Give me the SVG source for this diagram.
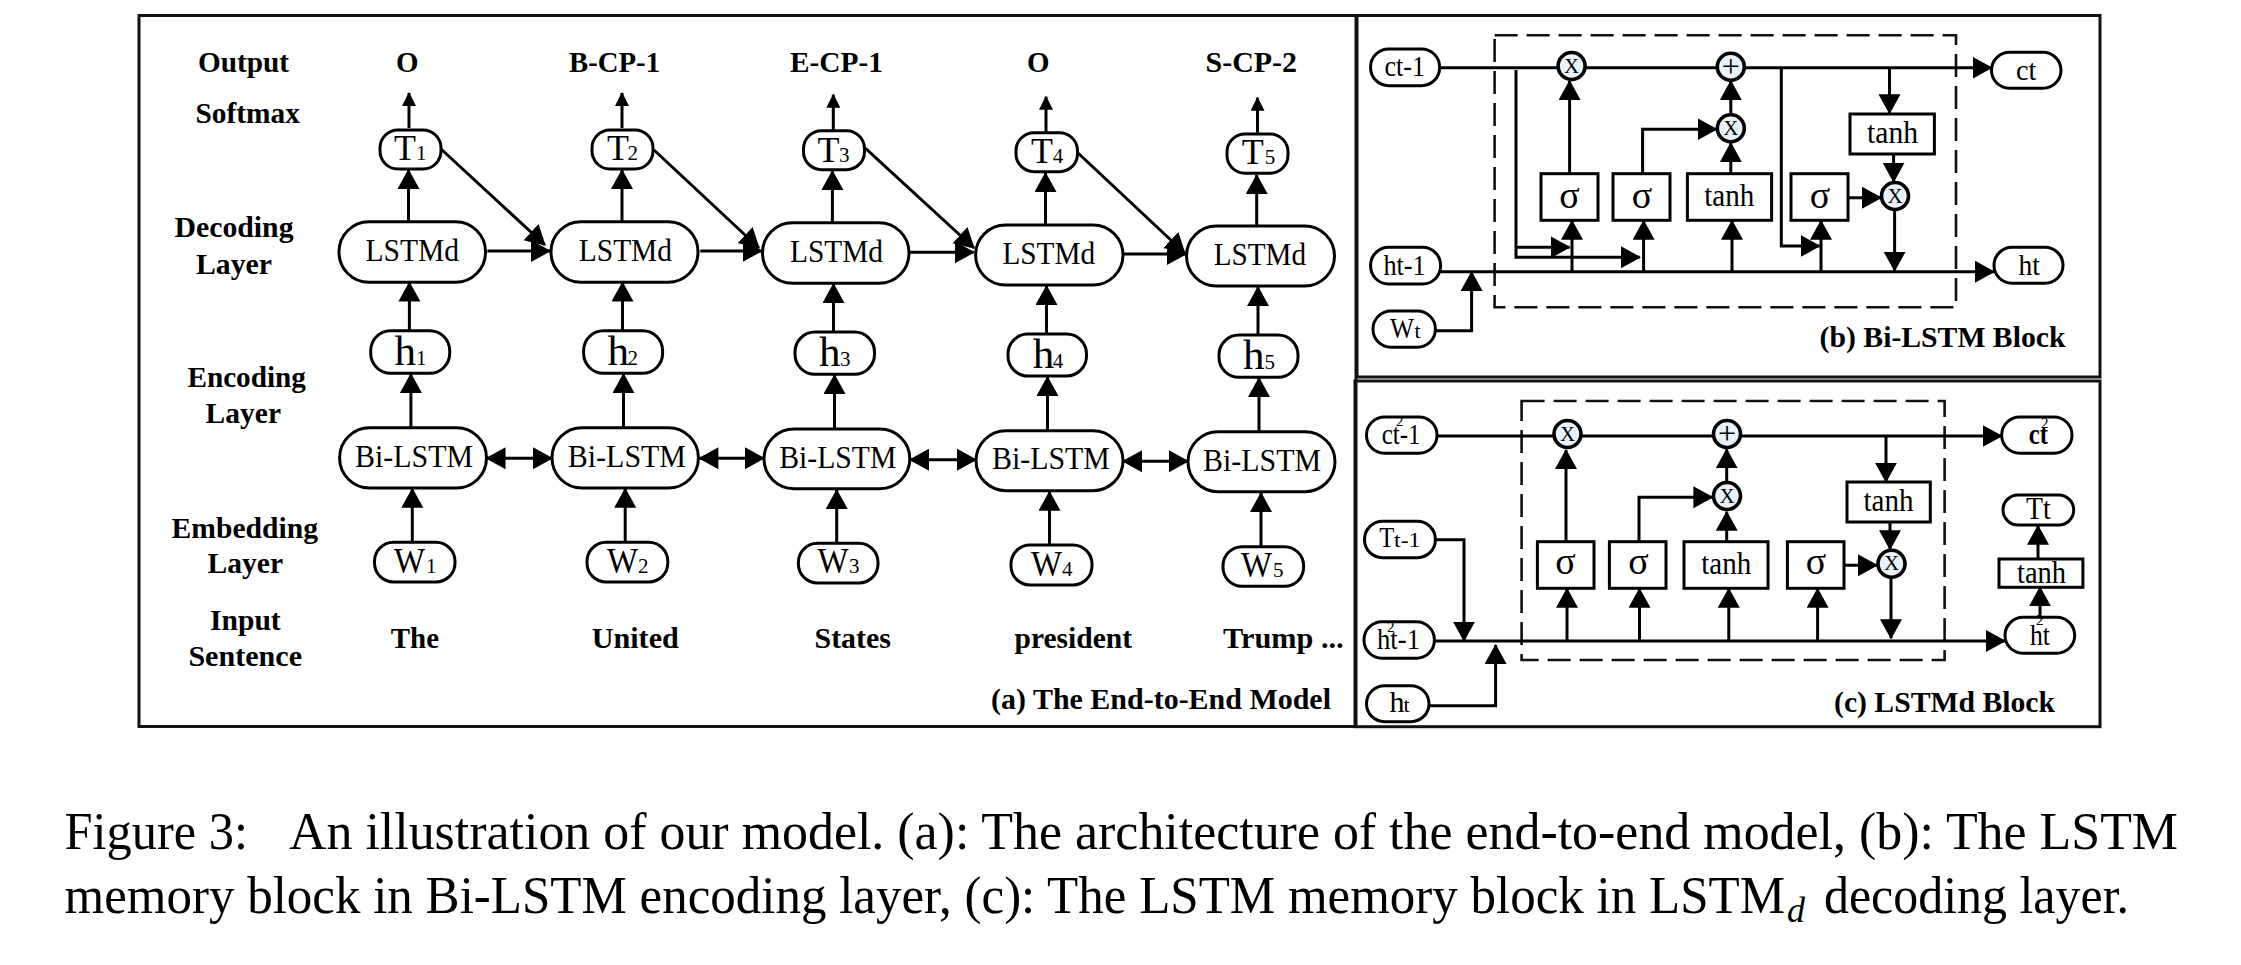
<svg xmlns="http://www.w3.org/2000/svg" width="2241" height="965" viewBox="0 0 2241 965">
<style>
text{font-family:"Liberation Serif","Times New Roman",serif;fill:#000}
.b{font-weight:bold;font-size:30px}
.n{font-size:32px}
.big{font-size:36px}
.h{font-size:43px}
.d{font-size:21px}
.s{font-size:30px}
.ss{font-size:22px}
.sup{font-size:15px}
.sg{font-size:38px;text-anchor:middle}
.x{font-size:21px;text-anchor:middle}
.p{font-size:32px;text-anchor:middle}
.cap{font-size:53px}
.panel{fill:none;stroke:#111;stroke-width:3}
.dash{fill:none;stroke:#111;stroke-width:2.6;stroke-dasharray:23 9}
.pill,.box{fill:#fff;stroke:#000;stroke-width:3}
.op{fill:#eaf2f9;stroke:#000;stroke-width:3.6}
.c path{fill:none;stroke:#000;stroke-width:3}
.a{marker-end:url(#big)}
.t{marker-end:url(#small)}
.bi{marker-start:url(#bigr);marker-end:url(#big)}
</style>
<defs>
<marker id="big" markerUnits="userSpaceOnUse" markerWidth="24" markerHeight="24" refX="19" refY="11" orient="auto"><path d="M0 0L20 11L0 22Z" fill="#000"/></marker>
<marker id="bigr" markerUnits="userSpaceOnUse" markerWidth="24" markerHeight="24" refX="1" refY="11" orient="auto"><path d="M20 0L0 11L20 22Z" fill="#000"/></marker>
<marker id="small" markerUnits="userSpaceOnUse" markerWidth="16" markerHeight="16" refX="13" refY="7" orient="auto"><path d="M0 0L14 7L0 14Z" fill="#000"/></marker>
</defs>
<rect fill="#fff" width="2241" height="965"/>
<g id="panels">
<rect class="panel" x="139" y="15.5" width="1217" height="711"/>
<rect class="panel" x="1357" y="15.5" width="743" height="361.5"/>
<rect class="panel" x="1355" y="381" width="745" height="345.7"/>
<rect class="dash" x="1494.6" y="35.3" width="461.4" height="272"/>
<rect class="dash" x="1521.6" y="401" width="423" height="259"/>
</g>
<g id="connectors" class="c">
<path class="t" d="M409 128V93"/><path class="t" d="M622 128V93"/><path class="t" d="M833.3 130V94.7"/><path class="t" d="M1046 131.7V96.7"/><path class="t" d="M1257.5 132.7V97.7"/>
<path class="a" d="M408.5 221.7V170"/><path class="a" d="M622 221.7V170"/><path class="a" d="M832.4 222.7V171"/><path class="a" d="M1045.5 226V173"/><path class="a" d="M1256.7 226V175"/>
<path class="a" d="M409.4 330V282.5"/><path class="a" d="M622.5 330V282.5"/><path class="a" d="M833.5 332V284"/><path class="a" d="M1046.5 334V286"/><path class="a" d="M1258 335V287"/>
<path class="a" d="M410.9 427.7V374"/><path class="a" d="M623.5 427.7V374"/><path class="a" d="M834.5 429V375"/><path class="a" d="M1047.5 430.7V377"/><path class="a" d="M1259 431.7V378"/>
<path class="a" d="M412.3 541.7V488.7"/><path class="a" d="M625.2 541.7V488.7"/><path class="a" d="M836.7 543V490"/><path class="a" d="M1049.5 544V491.7"/><path class="a" d="M1261 546V493"/>
<path class="a" d="M441 149L545 245"/><path class="a" d="M654 150L759 248"/><path class="a" d="M865.5 148.3L974 248"/><path class="a" d="M1078 153L1184.7 253"/>
<path class="a" d="M487.4 251H550"/><path class="a" d="M700.3 251H761.6"/><path class="a" d="M910 252.3H973.8"/><path class="a" d="M1123.6 254H1186"/>
<path class="bi" d="M486.5 458.3H552"/><path class="bi" d="M699.4 458.3H764"/><path class="bi" d="M910 459.7H976"/><path class="bi" d="M1123 461.3H1188"/>

<path class="a" d="M1439.5 67.7H1991.5"/>
<path class="a" d="M1440.5 271.7H1994"/>
<path class="a" d="M1435.4 330.7H1471.6V272"/>
<path class="a" d="M1516 70V257.3H1640"/>
<path class="a" d="M1516 247.3H1569.6"/>
<path class="a" d="M1572 271.7V220.7"/><path class="a" d="M1643.6 271.7V220.7"/><path class="a" d="M1732 271.7V220.7"/><path class="a" d="M1821 271.7V220.7"/>
<path class="a" d="M1569.6 173.7V81"/>
<path class="a" d="M1642.6 173.7V129.3H1716.5"/>
<path class="a" d="M1730.8 173.7V143"/>
<path class="a" d="M1730.8 113V81"/>
<path class="a" d="M1781.3 68V246H1819.6"/>
<path class="a" d="M1889.5 68V113.3"/>
<path class="a" d="M1893.6 154V181.7"/>
<path class="a" d="M1848 197.7H1881"/>
<path class="a" d="M1894.6 210V270.7"/>

<path class="a" d="M1437 436H2001.7"/>
<path class="a" d="M1434.4 641H2005"/>
<path class="a" d="M1435.4 539.7H1464V640.7"/>
<path class="a" d="M1429.3 705.7H1495.6V645"/>
<path class="a" d="M1567 641V588.7"/><path class="a" d="M1639.5 641V588.7"/><path class="a" d="M1728.8 641V588.7"/><path class="a" d="M1817.6 641V588.7"/>
<path class="a" d="M1566 541.7V450"/>
<path class="a" d="M1639 541.7V497.3H1712.4"/>
<path class="a" d="M1726.7 541.7V511.7"/>
<path class="a" d="M1726.7 482.3V449.3"/>
<path class="a" d="M1886 436V481.7"/>
<path class="a" d="M1890 522V549.3"/>
<path class="a" d="M1844 565.3H1877"/>
<path class="a" d="M1891 578.3V638.3"/>
<path class="a" d="M2040 617.3V587.3"/>
<path class="a" d="M2038 559V525.7"/>
</g>

<g id="a-labels">
<text class="b" x="198" y="71.7" textLength="91" lengthAdjust="spacingAndGlyphs">Output</text>
<text class="b" x="195.5" y="122.7" textLength="104.5" lengthAdjust="spacingAndGlyphs">Softmax</text>
<text class="b" x="396" y="71.7" textLength="22.5" lengthAdjust="spacingAndGlyphs">O</text>
<text class="b" x="569" y="71.7" textLength="91" lengthAdjust="spacingAndGlyphs">B-CP-1</text>
<text class="b" x="790" y="71.7" textLength="93" lengthAdjust="spacingAndGlyphs">E-CP-1</text>
<text class="b" x="1027" y="71.7" textLength="22.5" lengthAdjust="spacingAndGlyphs">O</text>
<text class="b" x="1205.5" y="71.7" textLength="91.5" lengthAdjust="spacingAndGlyphs">S-CP-2</text>
<text class="b" x="174.5" y="237" textLength="119" lengthAdjust="spacingAndGlyphs">Decoding</text>
<text class="b" x="196" y="274" textLength="76" lengthAdjust="spacingAndGlyphs">Layer</text>
<text class="b" x="187.4" y="387" textLength="118.6" lengthAdjust="spacingAndGlyphs">Encoding</text>
<text class="b" x="205.6" y="423.3" textLength="75.4" lengthAdjust="spacingAndGlyphs">Layer</text>
<text class="b" x="171.6" y="537.7" textLength="146.4" lengthAdjust="spacingAndGlyphs">Embedding</text>
<text class="b" x="207.5" y="573" textLength="75.5" lengthAdjust="spacingAndGlyphs">Layer</text>
<text class="b" x="210" y="630" textLength="70.7" lengthAdjust="spacingAndGlyphs">Input</text>
<text class="b" x="188.4" y="665.7" textLength="113.6" lengthAdjust="spacingAndGlyphs">Sentence</text>
<text class="b" x="390.8" y="648" textLength="48.2" lengthAdjust="spacingAndGlyphs">The</text>
<text class="b" x="591.7" y="648" textLength="87.1" lengthAdjust="spacingAndGlyphs">United</text>
<text class="b" x="814.5" y="648" textLength="76.5" lengthAdjust="spacingAndGlyphs">States</text>
<text class="b" x="1014.5" y="648" textLength="117.5" lengthAdjust="spacingAndGlyphs">president</text>
<text class="b" x="1223" y="648" textLength="120.6" lengthAdjust="spacingAndGlyphs">Trump ...</text>
<text class="b" x="991" y="709" textLength="340" lengthAdjust="spacingAndGlyphs">(a) The End-to-End Model</text>
</g>

<g id="T1"><rect class="pill" x="380" y="130" width="61" height="39" rx="18"/><text class="big" x="394" y="160">T</text><text class="d" x="416" y="160">1</text></g>
<g id="T2"><rect class="pill" x="592" y="130" width="61" height="39" rx="18"/><text class="big" x="607" y="160">T</text><text class="d" x="627.6" y="160">2</text></g>
<g id="T3"><rect class="pill" x="803.5" y="130.7" width="61" height="39" rx="18"/><text class="big" x="817.6" y="161.7">T</text><text class="d" x="839" y="161.7">3</text></g>
<g id="T4"><rect class="pill" x="1016" y="132.7" width="61.5" height="39" rx="18"/><text class="big" x="1031" y="162.7">T</text><text class="d" x="1052.7" y="162.7">4</text></g>
<g id="T5"><rect class="pill" x="1227" y="134" width="61" height="39.3" rx="18"/><text class="big" x="1241.8" y="164.3">T</text><text class="d" x="1264.7" y="164.3">5</text></g>

<g id="LSTMd1"><rect class="pill" x="339" y="221.7" width="146.5" height="60.6" rx="30"/><text class="n" x="365.4" y="260.7" textLength="93.6" lengthAdjust="spacingAndGlyphs">LSTMd</text></g>
<g id="LSTMd2"><rect class="pill" x="551" y="221.7" width="147" height="60.6" rx="30"/><text class="n" x="578.8" y="260.7" textLength="93.2" lengthAdjust="spacingAndGlyphs">LSTMd</text></g>
<g id="LSTMd3"><rect class="pill" x="762.5" y="222.7" width="146.5" height="60.6" rx="30"/><text class="n" x="790" y="261.7" textLength="93" lengthAdjust="spacingAndGlyphs">LSTMd</text></g>
<g id="LSTMd4"><rect class="pill" x="975.6" y="225" width="147.4" height="60" rx="30"/><text class="n" x="1002.5" y="264" textLength="92.5" lengthAdjust="spacingAndGlyphs">LSTMd</text></g>
<g id="LSTMd5"><rect class="pill" x="1186.5" y="226" width="148" height="60" rx="30"/><text class="n" x="1213.8" y="265" textLength="92.2" lengthAdjust="spacingAndGlyphs">LSTMd</text></g>

<g id="h1"><rect class="pill" x="370.7" y="330.7" width="79" height="42.6" rx="20"/><text class="h" x="394.6" y="365">h</text><text class="d" x="416" y="365">1</text></g>
<g id="h2"><rect class="pill" x="583.6" y="330.7" width="79" height="42.6" rx="20"/><text class="h" x="607.5" y="365">h</text><text class="d" x="627.6" y="365">2</text></g>
<g id="h3"><rect class="pill" x="795" y="332" width="79.5" height="42.3" rx="20"/><text class="h" x="819" y="366">h</text><text class="d" x="840" y="366">3</text></g>
<g id="h4"><rect class="pill" x="1008" y="334" width="78.5" height="42" rx="20"/><text class="h" x="1032.7" y="367.7">h</text><text class="d" x="1052.7" y="367.7">4</text></g>
<g id="h5"><rect class="pill" x="1219" y="335" width="79" height="42.3" rx="20"/><text class="h" x="1243" y="369.3">h</text><text class="d" x="1264.4" y="369.3">5</text></g>

<g id="BiLSTM1"><rect class="pill" x="339.6" y="427.7" width="146.9" height="60.3" rx="30"/><text class="n" x="355" y="466.7" textLength="118" lengthAdjust="spacingAndGlyphs">Bi-LSTM</text></g>
<g id="BiLSTM2"><rect class="pill" x="552" y="427.7" width="146.4" height="60.3" rx="30"/><text class="n" x="567.8" y="466.7" textLength="118.2" lengthAdjust="spacingAndGlyphs">Bi-LSTM</text></g>
<g id="BiLSTM3"><rect class="pill" x="764" y="429" width="145.8" height="59.7" rx="30"/><text class="n" x="779.3" y="467.7" textLength="117.1" lengthAdjust="spacingAndGlyphs">Bi-LSTM</text></g>
<g id="BiLSTM4"><rect class="pill" x="976" y="430.7" width="147" height="60" rx="30"/><text class="n" x="992" y="469.3" textLength="117.8" lengthAdjust="spacingAndGlyphs">Bi-LSTM</text></g>
<g id="BiLSTM5"><rect class="pill" x="1188" y="431.7" width="147" height="60" rx="30"/><text class="n" x="1203" y="470.7" textLength="118" lengthAdjust="spacingAndGlyphs">Bi-LSTM</text></g>

<g id="W1"><rect class="pill" x="374.5" y="542.3" width="80.5" height="39.7" rx="19"/><text class="big" x="394" y="572.7" textLength="31" lengthAdjust="spacingAndGlyphs">W</text><text class="d" x="426" y="572.7">1</text></g>
<g id="W2"><rect class="pill" x="587" y="542.3" width="80.8" height="39.7" rx="19"/><text class="big" x="607" y="572.7" textLength="31" lengthAdjust="spacingAndGlyphs">W</text><text class="d" x="638" y="572.7">2</text></g>
<g id="W3"><rect class="pill" x="798.4" y="543.3" width="79.6" height="39.7" rx="19"/><text class="big" x="817.5" y="573.3" textLength="31" lengthAdjust="spacingAndGlyphs">W</text><text class="d" x="849" y="573.3">3</text></g>
<g id="W4"><rect class="pill" x="1011" y="545" width="81" height="40" rx="19"/><text class="big" x="1031" y="575.7" textLength="31" lengthAdjust="spacingAndGlyphs">W</text><text class="d" x="1062" y="575.7">4</text></g>
<g id="W5"><rect class="pill" x="1223" y="546.7" width="80.6" height="39.6" rx="19"/><text class="big" x="1241" y="576.7" textLength="31" lengthAdjust="spacingAndGlyphs">W</text><text class="d" x="1273" y="576.7">5</text></g>

<g id="b-ct-1"><rect class="pill" x="1370.6" y="49" width="69" height="36.7" rx="18"/><text class="s" x="1384.4" y="76" textLength="40.6" lengthAdjust="spacingAndGlyphs">ct-1</text></g>
<g id="b-ct"><rect class="pill" x="1991.5" y="52.3" width="69.5" height="36" rx="18"/><text class="s" x="2016" y="80" textLength="20.4" lengthAdjust="spacingAndGlyphs">ct</text></g>
<g id="b-ht-1"><rect class="pill" x="1370.6" y="247.3" width="70" height="36.7" rx="18"/><text class="s" x="1383.4" y="275" textLength="42.3" lengthAdjust="spacingAndGlyphs">ht-1</text></g>
<g id="b-ht"><rect class="pill" x="1994" y="247.3" width="69" height="36" rx="18"/><text class="s" x="2018.6" y="275" textLength="21.4" lengthAdjust="spacingAndGlyphs">ht</text></g>
<g id="b-Wt"><rect class="pill" x="1373" y="311" width="62.4" height="36.3" rx="18"/><text class="s" x="1390" y="338" textLength="24" lengthAdjust="spacingAndGlyphs">W</text><text class="ss" x="1414.5" y="338">t</text></g>
<g id="b-x1"><circle class="op" cx="1571.6" cy="66" r="13.5"/><text class="x" x="1571.6" y="72.5">X</text></g>
<g id="b-plus"><circle class="op" cx="1730.8" cy="66.7" r="13.5"/><text class="p" x="1730.8" y="77">+</text></g>
<g id="b-x2"><circle class="op" cx="1730.8" cy="128.3" r="13.5"/><text class="x" x="1730.8" y="134.8">X</text></g>
<g id="b-x3"><circle class="op" cx="1895" cy="196" r="13.5"/><text class="x" x="1895" y="202.5">X</text></g>
<g id="b-s1"><rect class="box" x="1541" y="173.7" width="57" height="46.6"/><text class="sg" x="1569.6" y="208">σ</text></g>
<g id="b-s2"><rect class="box" x="1613" y="173.7" width="57" height="46.6"/><text class="sg" x="1642" y="208">σ</text></g>
<g id="b-tanh"><rect class="box" x="1687.4" y="173.7" width="84.2" height="46.6"/><text class="n" x="1704.3" y="205.7" textLength="50" lengthAdjust="spacingAndGlyphs">tanh</text></g>
<g id="b-s3"><rect class="box" x="1791" y="173.7" width="57" height="46.6"/><text class="sg" x="1820" y="208">σ</text></g>
<g id="b-tanh2"><rect class="box" x="1850" y="114" width="84.4" height="40"/><text class="n" x="1867" y="143.3" textLength="51" lengthAdjust="spacingAndGlyphs">tanh</text></g>
<text id="b-title" class="b" x="1819.6" y="346.7" textLength="245.9" lengthAdjust="spacingAndGlyphs">(b) Bi-LSTM Block</text>

<g id="c-ct-1"><rect class="pill" x="1366.5" y="417" width="70.5" height="36.3" rx="18"/><text class="s" x="1381.8" y="444" textLength="38.8" lengthAdjust="spacingAndGlyphs">ct-1</text><text class="sup" x="1396" y="426">2</text></g>
<g id="c-ct"><rect class="pill" x="2001.7" y="417" width="70.3" height="36.3" rx="18"/><text class="s" font-weight="bold" x="2028.8" y="444" textLength="19.2" lengthAdjust="spacingAndGlyphs">ct</text><text class="sup" x="2041" y="428">2</text></g>
<g id="c-Tt-1"><rect class="pill" x="1364.5" y="521.3" width="70.9" height="36.4" rx="18"/><text class="s" x="1379.3" y="547.3" textLength="15" lengthAdjust="spacingAndGlyphs">T</text><text class="ss" x="1394" y="547.3" textLength="26.6" lengthAdjust="spacingAndGlyphs">t-1</text></g>
<g id="c-ht-1"><rect class="pill" x="1364" y="621.7" width="70.4" height="36.6" rx="18"/><text class="s" x="1377" y="649.3" textLength="43" lengthAdjust="spacingAndGlyphs">ht-1</text><text class="sup" x="1387" y="632">2</text></g>
<g id="c-ht"><rect class="pill" x="1366.5" y="685.7" width="62.5" height="36" rx="18"/><text class="s" x="1389.5" y="712.3">h</text><text class="ss" x="1403.5" y="712.3">t</text></g>
<g id="c-x1"><circle class="op" cx="1567.5" cy="434" r="13.5"/><text class="x" x="1567.5" y="440.5">X</text></g>
<g id="c-plus"><circle class="op" cx="1727" cy="434" r="13.5"/><text class="p" x="1727" y="444.3">+</text></g>
<g id="c-x2"><circle class="op" cx="1727" cy="496" r="13.5"/><text class="x" x="1727" y="502.5">X</text></g>
<g id="c-x3"><circle class="op" cx="1891.5" cy="563.7" r="13.5"/><text class="x" x="1891.5" y="570.2">X</text></g>
<g id="c-s1"><rect class="box" x="1537.4" y="541.7" width="56.6" height="46.6"/><text class="sg" x="1565.5" y="574">σ</text></g>
<g id="c-s2"><rect class="box" x="1609.4" y="541.7" width="56.6" height="46.6"/><text class="sg" x="1638.5" y="574">σ</text></g>
<g id="c-tanh"><rect class="box" x="1684" y="541.7" width="84" height="46.6"/><text class="n" x="1701.2" y="574" textLength="50" lengthAdjust="spacingAndGlyphs">tanh</text></g>
<g id="c-s3"><rect class="box" x="1787.4" y="541.7" width="56.6" height="46.6"/><text class="sg" x="1816" y="574">σ</text></g>
<g id="c-tanh2"><rect class="box" x="1847" y="482" width="83.3" height="40"/><text class="n" x="1863.5" y="511" textLength="50" lengthAdjust="spacingAndGlyphs">tanh</text></g>
<g id="c-tanh3"><rect class="box" x="1999" y="559" width="83.9" height="28.3"/><text class="n" x="2017" y="582.7" textLength="49" lengthAdjust="spacingAndGlyphs">tanh</text></g>
<g id="c-Tt"><rect class="pill" x="2003" y="495" width="70.7" height="30" rx="15"/><text class="n" x="2026" y="519" textLength="24.7" lengthAdjust="spacingAndGlyphs">Tt</text></g>
<g id="c-ht2"><rect class="pill" x="2005" y="617.3" width="69.7" height="36" rx="18"/><text class="s" x="2030" y="645" textLength="20" lengthAdjust="spacingAndGlyphs">ht</text><text class="sup" x="2036" y="625">2</text></g>
<text id="c-title" class="b" x="1834" y="711.7" textLength="221" lengthAdjust="spacingAndGlyphs">(c) LSTMd Block</text>

<g id="caption">
<text class="cap" x="64.5" y="849.3" textLength="183.5" lengthAdjust="spacingAndGlyphs">Figure 3:</text>
<text class="cap" x="289" y="849.3" textLength="1889" lengthAdjust="spacingAndGlyphs">An illustration of our model. (a): The architecture of the end-to-end model, (b): The LSTM</text>
<text class="cap" x="64.5" y="912.7" textLength="1720.5" lengthAdjust="spacingAndGlyphs">memory block in Bi-LSTM encoding layer, (c): The LSTM memory block in LSTM</text>
<text x="1787" y="921.7" font-size="36" font-style="italic">d</text>
<text class="cap" x="1824" y="912.7" textLength="305" lengthAdjust="spacingAndGlyphs">decoding layer.</text>
</g>
</svg>
